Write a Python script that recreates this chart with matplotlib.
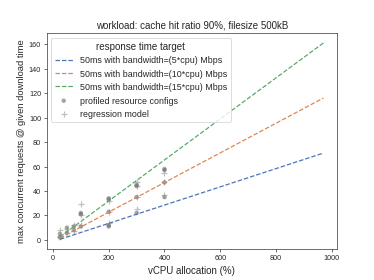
import numpy as np
import matplotlib
matplotlib.use("Agg")
import matplotlib.pyplot as plt
import seaborn as sns

sns.set_style("ticks")
plt.rcParams['font.family'] = ['Liberation Sans', 'DejaVu Sans']

# --- dados ---
line_x = [25, 970]
line_bw5 = [0.5, 71]
line_bw10 = [1.5, 116]
line_bw15 = [2.5, 161]
labels = ["50ms with bandwidth=(5*cpu) Mbps",
          "50ms with bandwidth=(10*cpu) Mbps",
          "50ms with bandwidth=(15*cpu) Mbps"]

# configs perfiladas (x = vCPU %, y = max requisições)
prof_x = [25, 25, 50, 50, 75, 75, 100, 100, 100,
          200, 200, 200, 200, 200, 300, 300, 300, 300,
          400, 400, 400, 400]
prof_y = [5, 2, 10, 6, 11, 8, 22, 21, 11,
          34, 33, 23, 12, 11, 45, 44, 35, 22,
          58, 57, 47, 35]

# modelo de regressão
reg_x = [25, 25, 25, 50, 50, 75, 75, 100, 100, 100,
         200, 200, 200, 300, 300, 300, 300,
         400, 400, 400]
reg_y = [8, 3, 2, 9, 6, 12, 7, 29, 20, 12,
         32, 23, 14, 47, 44, 35, 25,
         55, 47, 37]

fig, ax = plt.subplots(figsize=(6.4, 4.8), dpi=58.44)
pal = sns.color_palette("deep")

for ys, c, lab in zip([line_bw5, line_bw10, line_bw15], pal[:3], labels):
    ax.plot(line_x, ys, "--", color=c, label=lab)

ax.scatter(prof_x, prof_y, color="dimgray", alpha=0.6, s=30, label="profiled resource configs",
           edgecolor="none")
ax.scatter(reg_x, reg_y, color="gray", alpha=0.5, marker="+", s=70, label="regression model")

ax.set_title("workload: cache hit ratio 90%, filesize 500kB", fontsize=12)
ax.set_xlabel("vCPU allocation (%)", fontsize=12)
ax.set_ylabel("max concurrent requests @ given download time", fontsize=11.5)
ax.tick_params(labelsize=9)
ax.legend(title="response time target", loc="upper left", fontsize=11, title_fontsize=12)

fig.savefig("out.png", dpi=58.44)
